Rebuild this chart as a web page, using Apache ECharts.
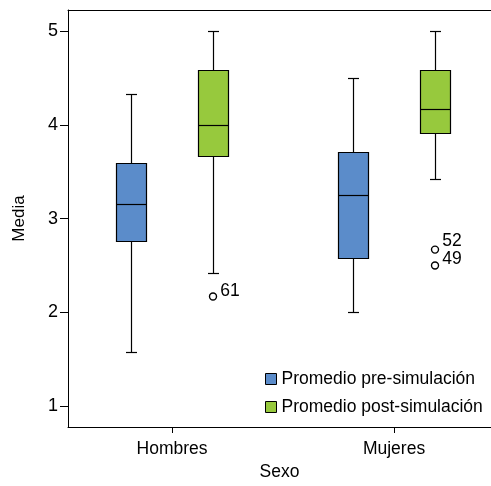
<!DOCTYPE html>
<html><head><meta charset="utf-8">
<script src="https://cdn.jsdelivr.net/npm/echarts@6/dist/echarts.min.js"></script>
<style>html,body{margin:0;padding:0;background:#fff}#c{width:491px;height:486px}</style>
</head><body><div id="c"></div>
<script>
const categories = ['Hombres', 'Mujeres'];
const seriesNames = ['Promedio pre-simulación', 'Promedio post-simulación'];
// [min, Q1, median, Q3, max] per category
const preBox = [[1.58, 2.76, 3.16, 3.59, 4.33], [2.0, 2.58, 3.25, 3.71, 4.50]];
const postBox = [[2.42, 3.67, 4.0, 4.58, 5.0], [3.42, 3.91, 4.17, 4.58, 5.0]];
// outliers: [categoryIndex, value, caseLabel]
const preOutliers = [];
const postOutliers = [[0, 2.17, '61'], [1, 2.67, '52'], [1, 2.5, '49']];
const yTicks = [1, 2, 3, 4, 5];
const colors = ['#5b8cca', '#97c93d'];
const FONT = '"Liberation Sans", Arial, sans-serif';
const labelShift = { '61': -5, '52': -8, '49': -6 };

function boxData(arr) { return arr.map((b, i) => [i].concat(b)); }

function makeRender(offset, color) {
  return function (params, api) {
    const i = api.value(0);
    const lo = api.coord([i, api.value(1)]);
    const q1 = api.coord([i, api.value(2)]);
    const md = api.coord([i, api.value(3)]);
    const q3 = api.coord([i, api.value(4)]);
    const hi = api.coord([i, api.value(5)]);
    const cx = Math.round(lo[0] + offset) + 0.5;
    const hw = 15, cap = 5.5;
    const r = v => Math.round(v) + 0.5;
    const ls = { stroke: '#000', lineWidth: 1.2 };
    return {
      type: 'group', children: [
        { type: 'line', shape: { x1: cx, y1: r(hi[1]), x2: cx, y2: r(q3[1]) }, style: ls },
        { type: 'line', shape: { x1: cx, y1: r(q1[1]), x2: cx, y2: r(lo[1]) }, style: ls },
        { type: 'line', shape: { x1: cx - cap, y1: r(hi[1]), x2: cx + cap, y2: r(hi[1]) }, style: ls },
        { type: 'line', shape: { x1: cx - cap, y1: r(lo[1]), x2: cx + cap, y2: r(lo[1]) }, style: ls },
        { type: 'rect', shape: { x: cx - hw, y: r(q3[1]), width: hw * 2, height: r(q1[1]) - r(q3[1]) },
          style: { fill: color, stroke: '#000', lineWidth: 1.2 } },
        { type: 'line', shape: { x1: cx - hw, y1: r(md[1]), x2: cx + hw, y2: r(md[1]) }, style: ls }
      ]
    };
  };
}

function outlierData(list) {
  return list.map(o => ({ value: [o[0], o[1]], name: o[2],
    label: { offset: [0, labelShift[o[2]] || -5] } }));
}

const chart = echarts.init(document.getElementById('c'), null, { renderer: 'canvas' });
chart.setOption({
  animation: false,
  textStyle: { fontFamily: FONT },
  grid: { left: 68, top: 10, right: 0, bottom: 59 },
  legend: {
    orient: 'vertical', left: 260, top: 365, padding: 5,
    itemWidth: 11, itemHeight: 11, itemGap: 10,
    icon: 'rect',
    textStyle: { fontSize: 17.5, color: '#000', lineHeight: 17, fontFamily: FONT },
    data: [
      { name: seriesNames[0], itemStyle: { color: colors[0], borderColor: '#000', borderWidth: 1 } },
      { name: seriesNames[1], itemStyle: { color: colors[1], borderColor: '#000', borderWidth: 1 } }
    ]
  },
  xAxis: [{
    type: 'value', min: -0.4685, max: 1.4369,
    name: 'Sexo', nameLocation: 'middle', nameGap: 36,
    nameTextStyle: { fontSize: 17.5, color: '#000', fontFamily: FONT },
    axisLine: { show: true, onZero: false, lineStyle: { color: '#000', width: 1 } },
    axisTick: { show: true, length: 6, customValues: [0, 1], lineStyle: { color: '#000' } },
    axisLabel: { customValues: [0, 1], formatter: v => categories[Math.round(v)] || '',
      fontSize: 17.5, color: '#000', margin: 13, fontFamily: FONT },
    splitLine: { show: false }
  }, {
    type: 'value', position: 'top', min: -0.4685, max: 1.4369,
    axisLine: { show: true, onZero: false, lineStyle: { color: '#000', width: 1 } },
    axisTick: { show: false }, axisLabel: { show: false }, splitLine: { show: false }
  }],
  yAxis: {
    type: 'value', min: 0.7794, max: 5.2238,
    name: 'Media', nameLocation: 'middle', nameGap: 40, nameRotate: 90,
    nameTextStyle: { fontSize: 17, color: '#000', fontFamily: FONT },
    axisLine: { show: true, onZero: false, lineStyle: { color: '#000', width: 1 } },
    axisTick: { show: true, length: 8, customValues: yTicks, lineStyle: { color: '#000' } },
    axisLabel: { customValues: yTicks, fontSize: 18, color: '#000', margin: 10, fontFamily: FONT },
    splitLine: { show: false }
  },
  series: [
    { name: seriesNames[0], type: 'custom', renderItem: makeRender(-41, colors[0]),
      itemStyle: { color: colors[0], borderColor: '#000' },
      encode: { x: 0, y: [1, 2, 3, 4, 5] }, data: boxData(preBox) },
    { name: seriesNames[1], type: 'custom', renderItem: makeRender(41, colors[1]),
      itemStyle: { color: colors[1], borderColor: '#000' },
      encode: { x: 0, y: [1, 2, 3, 4, 5] }, data: boxData(postBox) },
    { name: seriesNames[0], type: 'scatter', symbol: 'circle', symbolSize: 7,
      symbolOffset: [-41, 0], itemStyle: { color: '#fff', borderColor: '#000', borderWidth: 1.4, opacity: 1 },
      label: { show: true, position: 'right', distance: 3, fontSize: 17.5, color: '#000',
        fontFamily: FONT, formatter: p => p.name },
      data: outlierData(preOutliers) },
    { name: seriesNames[1], type: 'scatter', symbol: 'circle', symbolSize: 7,
      symbolOffset: [41, 0], itemStyle: { color: '#fff', borderColor: '#000', borderWidth: 1.4, opacity: 1 },
      label: { show: true, position: 'right', distance: 3, fontSize: 17.5, color: '#000',
        fontFamily: FONT, formatter: p => p.name },
      data: outlierData(postOutliers) }
  ]
});
</script></body></html>
